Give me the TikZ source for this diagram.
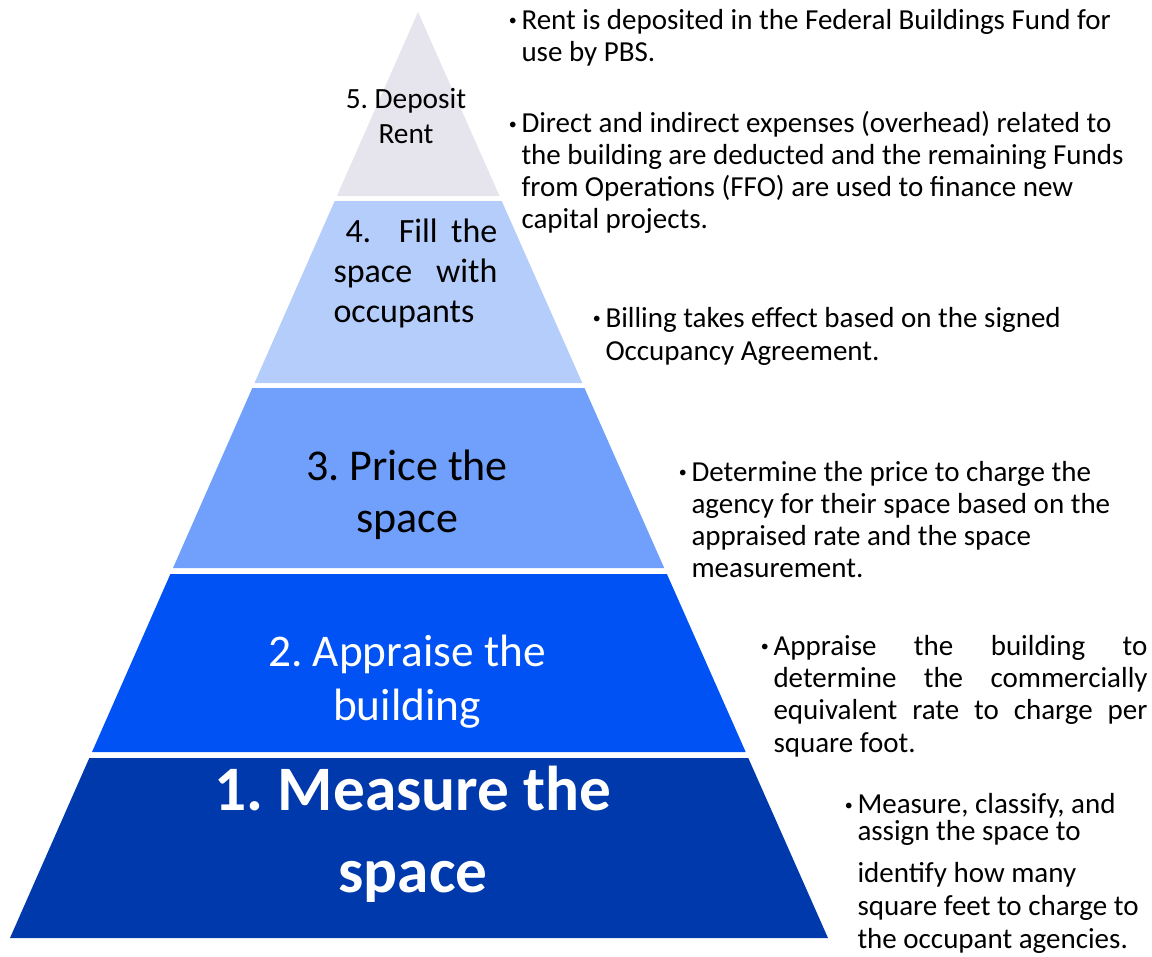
\documentclass[tikz,border=0pt]{standalone}
\usepackage{fontspec}
\setmainfont{Carlito}
\tikzset{every picture/.style={line width=0.75pt}}
\tikzset{
  bullettext/.style={anchor=base west, inner sep=0pt, align=left, font=\fontsize{21.75}{24.5}\selectfont},
  steplabel/.style={anchor=base, inner sep=0pt, align=center},
}
\newcommand{\bul}{\llap{\raisebox{2.6pt}{\fontsize{12}{12}\selectfont\textbullet}\hspace{3.5pt}}}

\begin{document}
\begin{tikzpicture}[x=0.75pt,y=0.75pt,yscale=-1,xscale=1]
\useasboundingbox (0,0) rectangle (1152,956);

%Shape: Triangle [top layer]
\fill [fill={rgb, 255:red, 230; green, 228; blue, 236 }] (418,12) -- (499.5,196) -- (336.9,196) -- cycle ;
%Shape: Trapezoid [layer 4]
\fill [fill={rgb, 255:red, 181; green, 205; blue, 251 }] (334.7,201) -- (501.7,201) -- (582.3,383) -- (254.5,383) -- cycle ;
%Shape: Trapezoid [layer 3]
\fill [fill={rgb, 255:red, 112; green, 160; blue, 252 }] (252.3,388) -- (584.5,388) -- (664.2,568) -- (173,568) -- cycle ;
%Shape: Trapezoid [layer 2]
\fill [fill={rgb, 255:red, 0; green, 82; blue, 245 }] (170.4,574) -- (666.9,574) -- (745.7,752) -- (92,752) -- cycle ;
%Shape: Trapezoid [bottom layer]
\fill [fill={rgb, 255:red, 0; green, 57; blue, 172 }] (89.3,758) -- (748.3,758) -- (828,938) -- (10,938) -- cycle ;

% Text Node (anchored on the last line)
\draw (406,143) node (deposit) [steplabel, font=\fontsize{22}{26}\selectfont] {5.\ Deposit\\Rent};
% Text Node
\draw (333,322) node (occupy) [anchor=base west, inner sep=0pt, align=left, font=\fontsize{25.5}{30}\selectfont] {\makebox[123pt][r]{\makebox[114pt][s]{4. Fill the}}\\\makebox[123pt][s]{space with}\\occupants};
% Text Node
\draw (407,532) node (price) [steplabel, font=\fontsize{33}{39}\selectfont] {3.\ Price the\\space};
% Text Node
\draw (407,720) node (appraise) [steplabel, text=white, font=\fontsize{34}{40}\selectfont] {2.\ Appraise the\\building};
% Text Node
\draw (413,892) node (measure) [steplabel, text=white, font=\bfseries\fontsize{47.5}{61.5}\selectfont] {1.\ Measure the\\space};

% Text Node
\draw (521,62) node (rentnote) [bullettext] {\bul Rent is deposited in the Federal Buildings Fund for\\use by PBS.};
% Text Node
\draw (521,228) node (ffonote) [bullettext, font=\fontsize{21.75}{23.8}\selectfont] {\bul Direct and indirect expenses (overhead) related to\\the building are deducted and the remaining Funds\\from Operations (FFO) are used to finance new\\capital projects.};
% Text Node
\draw (605,360) node (billnote) [bullettext] {\bul Billing takes effect based on the signed\\Occupancy Agreement.};
% Text Node
\draw (691,577) node (pricenote) [bullettext, font=\fontsize{21.75}{24}\selectfont] {\bul Determine the price to charge the\\agency for their space based on the\\appraised rate and the space\\measurement.};
% Text Node
\draw (773,752) node (appraisenote) [bullettext, font=\fontsize{21.75}{24.2}\selectfont] {\bul\makebox[280.5pt][s]{Appraise the building to}\\\makebox[280.5pt][s]{determine the commercially}\\\makebox[280.5pt][s]{equivalent rate to charge per}\\square foot.};
% Text Node
\draw (857,840) node (measurenote) [bullettext, font=\fontsize{21.75}{17.25}\selectfont] {\bul Measure, classify, and\\assign the space to};
% Text Node
\draw (857,948) node (measurerest) [bullettext, font=\fontsize{21.75}{24.4}\selectfont] {identify how many\\square feet to charge to\\the occupant agencies.};

\end{tikzpicture}
\end{document}
